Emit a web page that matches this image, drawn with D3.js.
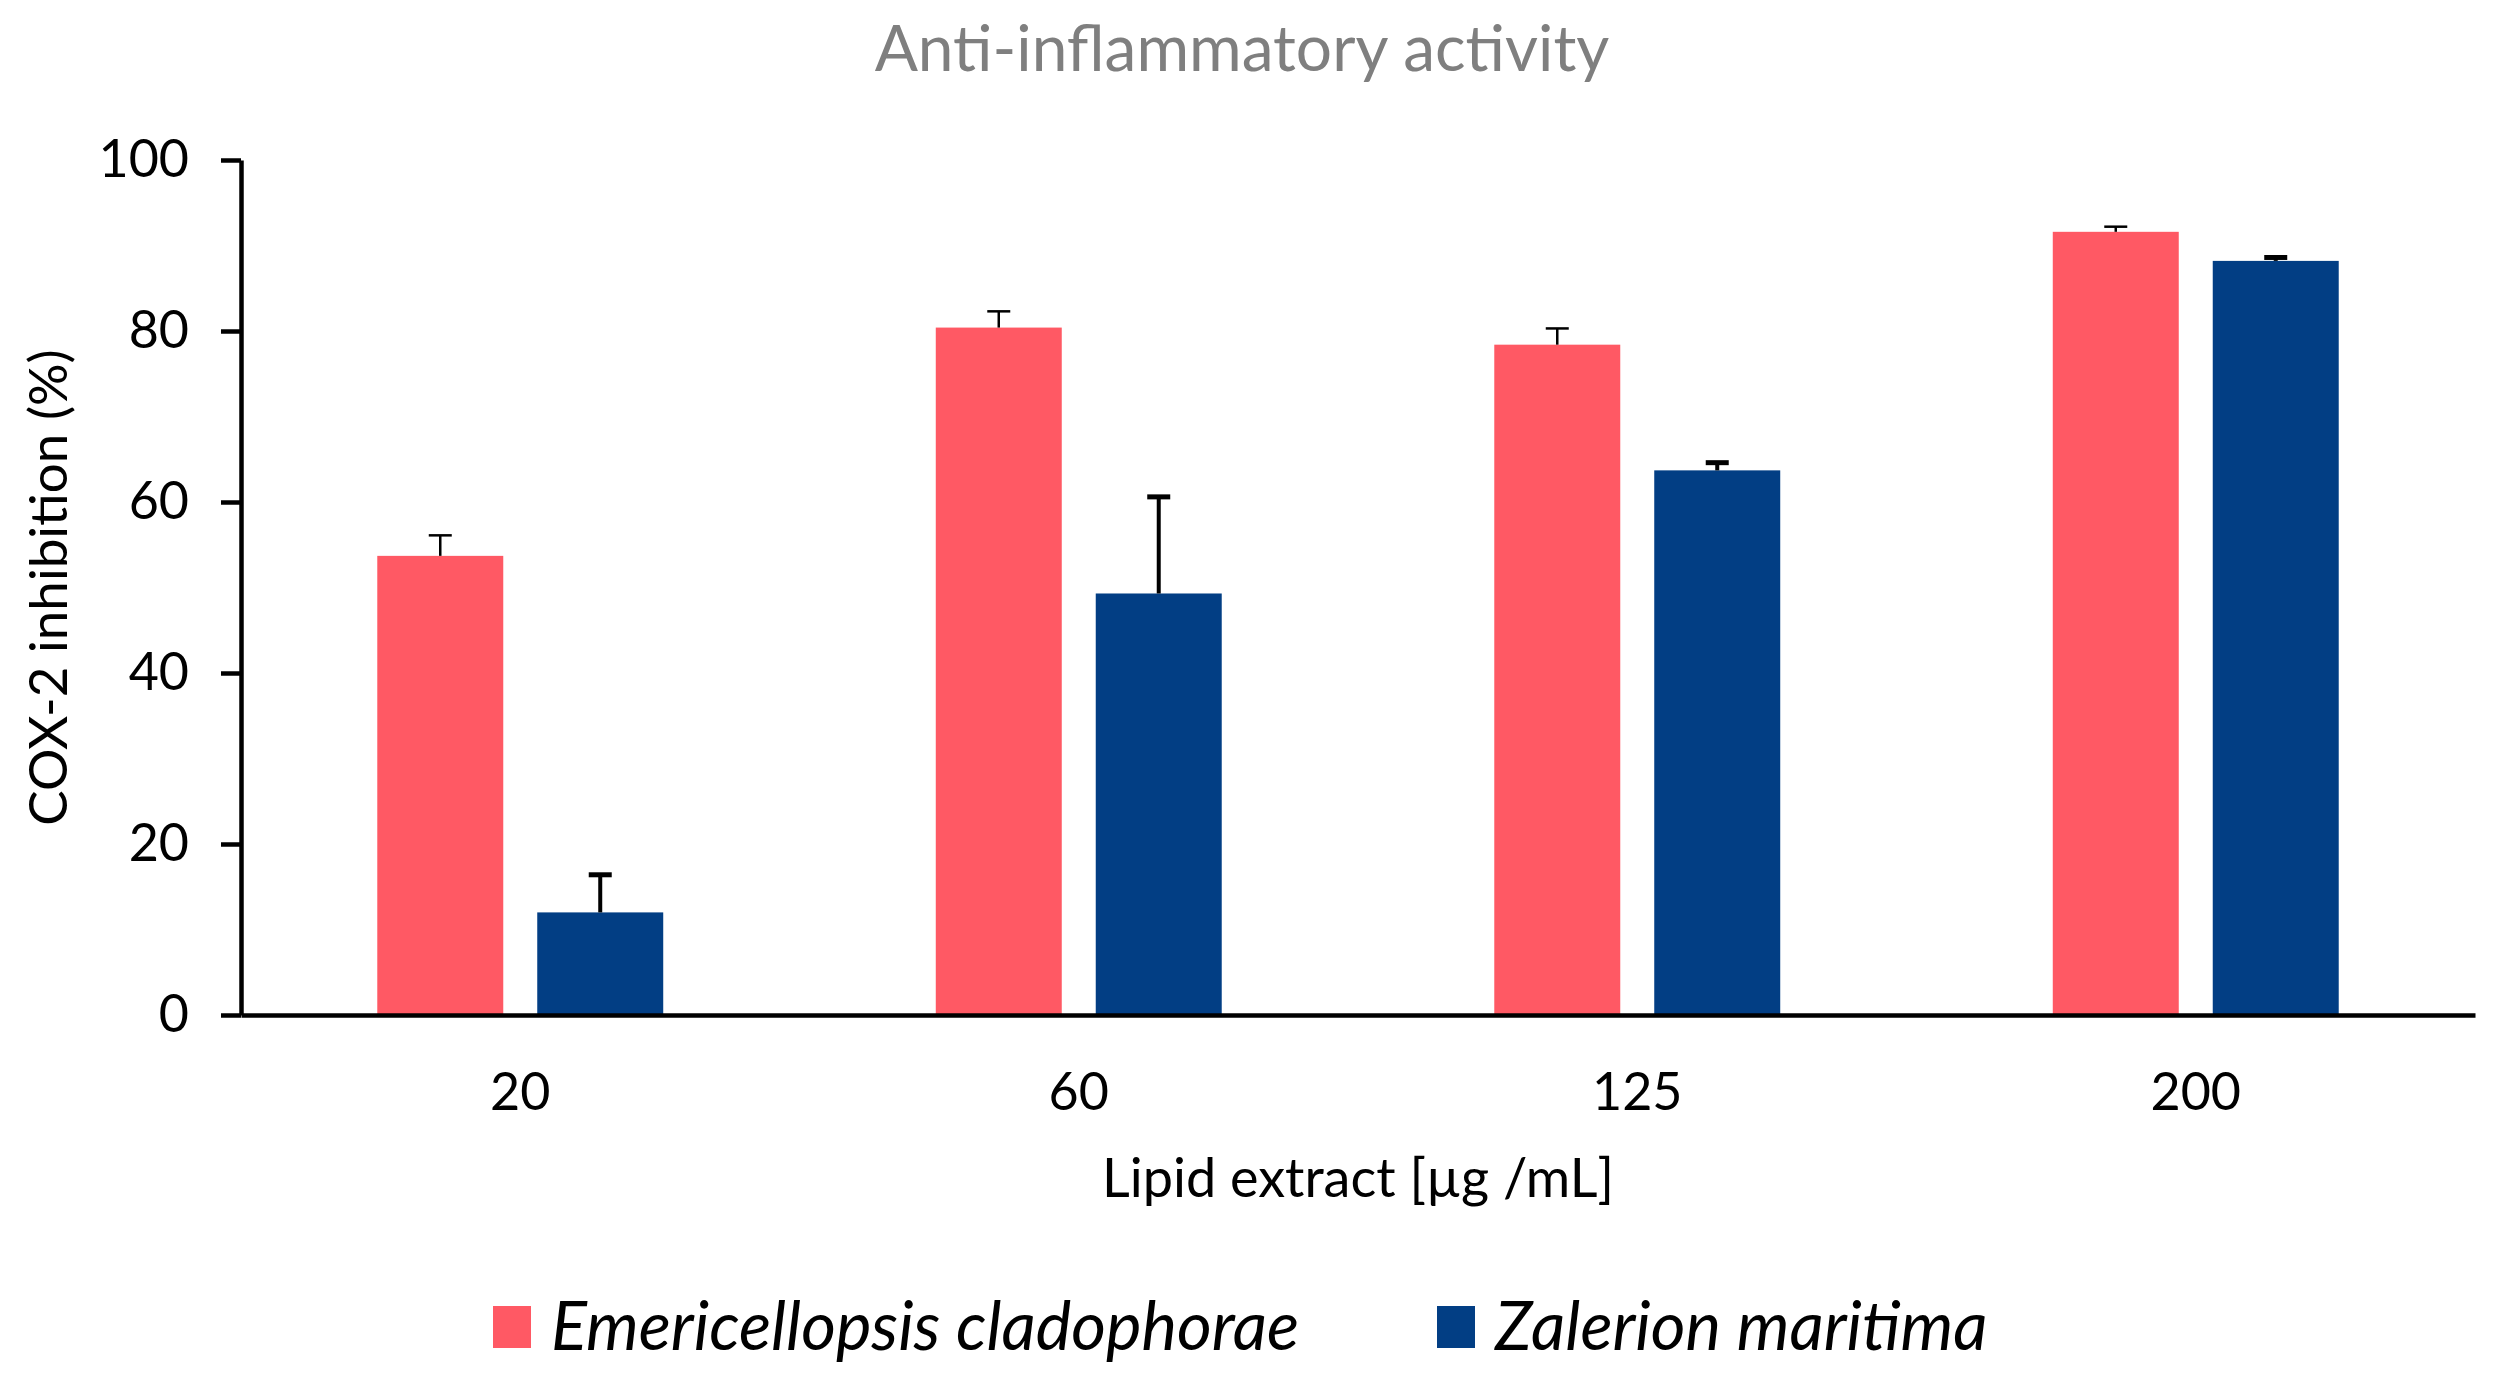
<!DOCTYPE html>
<html>
<meta charset="utf-8">
<style>
    body { margin: 0; background: #fff; }
    svg text { font-family: Lato, "Open Sans", sans-serif; }
</style>
<body>
<script src="https://d3js.org/d3.v7.min.js"></script>
<div id="chart"></div>
<script>
// Chart data.
var doses = ["20", "60", "125", "200"];
var seriesNames = ["Emericellopsis cladophorae", "Zalerion maritima"];
var seriesColors = ["#ff5964", "#023e84"];
var emericellopsis = [53.7, 80.4, 78.4, 91.6];
var emericellopsisErr = [2.4, 1.9, 1.9, 0.6];
var zalerion = [12.0, 49.3, 63.7, 88.2];
var zalerionErr = [4.4, 11.3, 0.9, 0.4];
var yTicks = [0, 20, 40, 60, 80, 100];

var width = 2496, height = 1388;
var margin = {top: 160, right: 21, bottom: 373, left: 241};

var svg = d3.select("#chart").append("svg")
    .attr("width", width)
    .attr("height", height);

// Flatten into rows the bars can bind to.
var rows = [];
doses.forEach(function(d, i) {
    rows.push({dose: d, series: 0, value: emericellopsis[i], err: emericellopsisErr[i]});
    rows.push({dose: d, series: 1, value: zalerion[i], err: zalerionErr[i]});
});

var x0 = d3.scaleBand()
    .domain(doses)
    .range([margin.left, width - margin.right])
    .padding(0);

var x1 = d3.scaleBand()
    .domain([0, 1])
    .range([x0.bandwidth() * 0.244, x0.bandwidth() * 0.756])
    .paddingInner(0.2125);

var y = d3.scaleLinear()
    .domain([0, 100])
    .range([height - margin.bottom, margin.top]);

// Bars
svg.append("g").selectAll("rect")
    .data(rows)
    .enter()
    .append("rect")
    .attr("x", function(d) { return x0(d.dose) + x1(d.series); })
    .attr("y", function(d) { return y(d.value); })
    .attr("width", x1.bandwidth())
    .attr("height", function(d) { return y(0) - y(d.value); })
    .attr("fill", function(d) { return seriesColors[d.series]; });

// Error bars (upper half only, like the original)
var errs = svg.append("g").selectAll("g")
    .data(rows)
    .enter()
    .append("g")
    .attr("stroke", "#000");

errs.append("line")
    .attr("x1", function(d) { return x0(d.dose) + x1(d.series) + x1.bandwidth() / 2; })
    .attr("x2", function(d) { return x0(d.dose) + x1(d.series) + x1.bandwidth() / 2; })
    .attr("y1", function(d) { return y(d.value); })
    .attr("y2", function(d) { return y(d.value + d.err); })
    .attr("stroke-width", function(d) { return d.series === 0 ? 2.5 : 4; });

errs.append("line")
    .attr("x1", function(d) { return x0(d.dose) + x1(d.series) + x1.bandwidth() / 2 - 11.5; })
    .attr("x2", function(d) { return x0(d.dose) + x1(d.series) + x1.bandwidth() / 2 + 11.5; })
    .attr("y1", function(d) { return y(d.value + d.err); })
    .attr("y2", function(d) { return y(d.value + d.err); })
    .attr("stroke-width", function(d) { return d.series === 0 ? 2.5 : 5; });

// Y axis
var yAxis = svg.append("g")
    .attr("transform", "translate(" + margin.left + ",0)")
    .call(d3.axisLeft(y).tickValues(yTicks).tickSize(20).tickPadding(32).tickSizeOuter(0));
yAxis.select(".domain").attr("stroke", "#000").attr("stroke-width", 4.5);
yAxis.selectAll(".tick line").attr("stroke", "#000").attr("stroke-width", 4.5);
yAxis.selectAll(".tick text")
    .attr("font-size", 52)
    .attr("fill", "#000")
    .style("font-family", "Lato, sans-serif");

// X axis (baseline only, labels without ticks)
var xAxis = svg.append("g")
    .attr("transform", "translate(0," + y(0) + ")")
    .call(d3.axisBottom(x0).tickSize(0).tickPadding(58).tickSizeOuter(0));
xAxis.select(".domain").attr("stroke", "#000").attr("stroke-width", 4.5);
xAxis.selectAll(".tick text")
    .attr("font-size", 52)
    .attr("fill", "#000")
    .style("font-family", "Lato, sans-serif");

// Title
svg.append("text")
    .attr("x", 1242)
    .attr("y", 71)
    .attr("text-anchor", "middle")
    .attr("font-size", 64)
    .attr("fill", "#7f7f7f")
    .text("Anti-inflammatory activity");

// Axis titles
svg.append("text")
    .attr("x", (margin.left + width - margin.right) / 2)
    .attr("y", 1197)
    .attr("text-anchor", "middle")
    .attr("font-size", 54)
    .attr("fill", "#000")
    .text("Lipid extract [µg /mL]");

svg.append("text")
    .attr("transform", "translate(67," + (y(50)) + ") rotate(-90)")
    .attr("text-anchor", "middle")
    .attr("font-size", 53)
    .attr("fill", "#000")
    .text("COX-2 inhibition (%)");

// Legend
var legendX = [493, 1437];
var legend = svg.append("g").selectAll("g")
    .data(seriesNames)
    .enter()
    .append("g")
    .attr("transform", function(d, i) { return "translate(" + legendX[i] + ",1306)"; });

legend.append("rect")
    .attr("width", 38)
    .attr("height", 42)
    .attr("fill", function(d, i) { return seriesColors[i]; });

legend.append("text")
    .attr("x", 58)
    .attr("y", 44)
    .attr("font-size", 67)
    .attr("font-style", "italic")
    .attr("fill", "#000")
    .text(function(d) { return d; });
</script>
</body>
</html>
